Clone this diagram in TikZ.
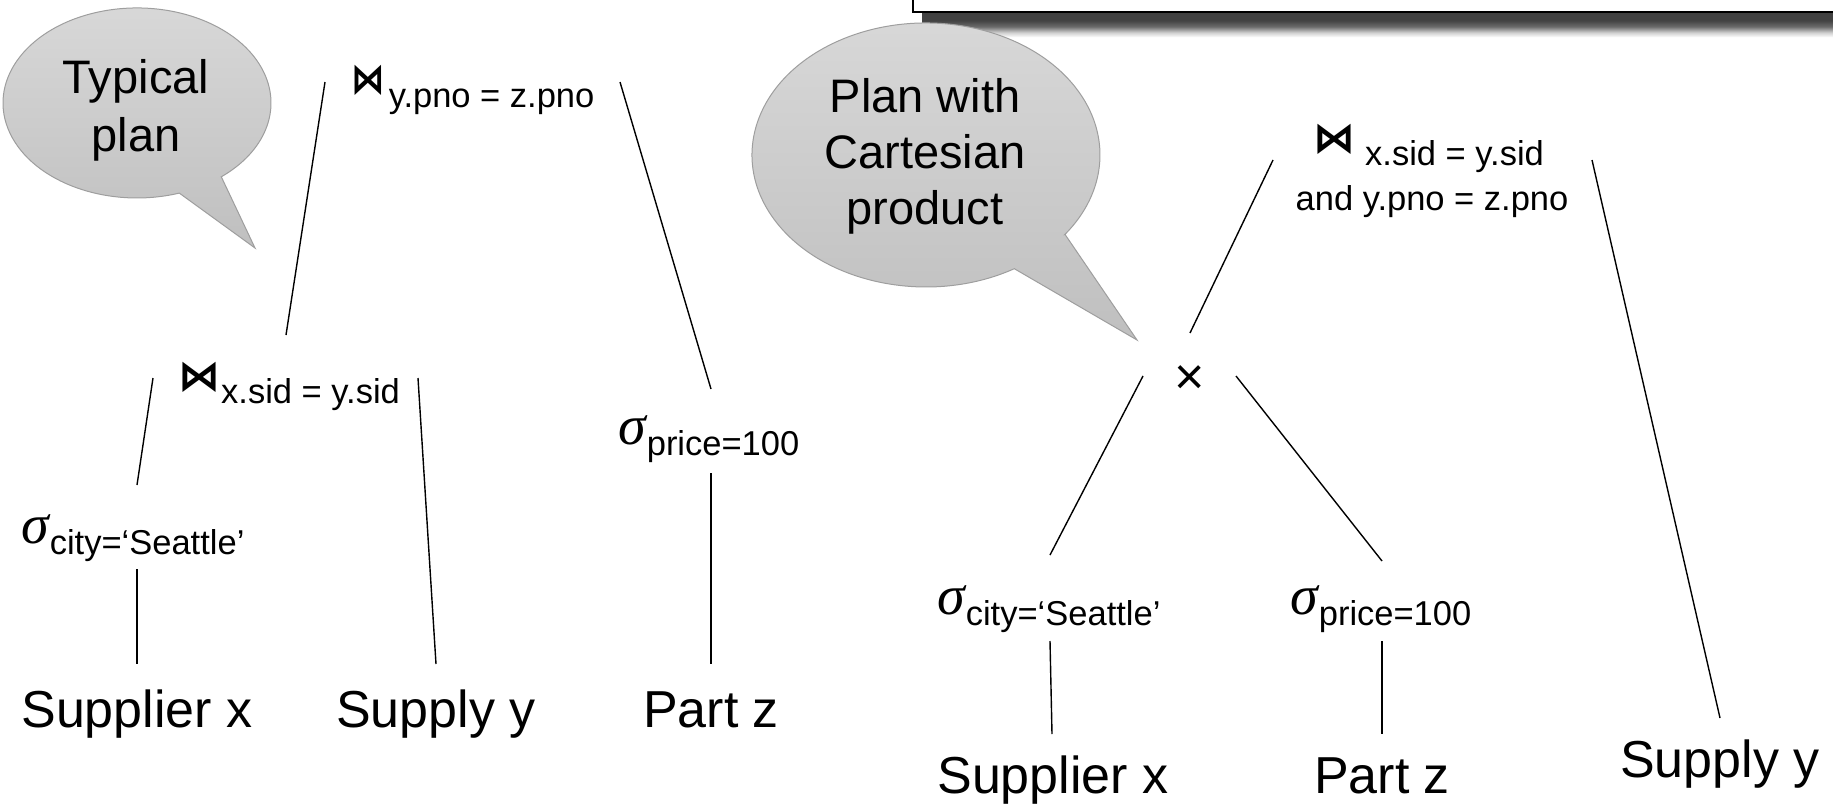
\documentclass[tikz,border=0pt]{standalone}
\usepackage{fontspec}
\usepackage{graphicx}
\setmainfont{Liberation Sans}
\newfontfamily\sigfont{Liberation Serif}
\newfontfamily\symfont{DejaVu Sans}
\newcommand\mysig{\raisebox{11pt}{\sigfont\itshape\fontsize{56}{60}\selectfont σ}}
\newcommand\mybowt{{\symfont\bfseries\fontsize{42}{42}\selectfont ⋈}}
\pgfdeclareverticalshading{shadowfade}{100bp}{color(0bp)=(white); color(26bp)=(white); color(32bp)=(black!18); color(40bp)=(black!58); color(48bp)=(black!74); color(100bp)=(black!76)}
\begin{document}
\begin{tikzpicture}[x=1pt,y=-1pt,
  lab/.style={inner sep=0pt, anchor=base, font=\fontsize{52}{62}\selectfont},
  cond/.style={inner sep=0pt, anchor=base west, font=\fontsize{34.5}{41}\selectfont},
  bubble/.style={draw=black!38, line width=1pt, top color=black!15, bottom color=black!25},
  bubtext/.style={inner sep=0pt, align=center, anchor=base},
  edge/.style={line width=1.4pt}]
\useasboundingbox (0,0) rectangle (1833,803);
% top box with shadow
\shade[shading=shadowfade] (922,0) rectangle (1845,38);
\draw[line width=2pt, fill=white] (913,-10) rectangle (1845,12);
% callouts
\draw[bubble] (221.3,176.8) -- (255,248) -- (179.3,193.1)
  arc[start angle=71.6, end angle=411, x radius=134, y radius=95] -- cycle;
\node[bubtext, font=\fontsize{47}{58}\selectfont] (c1) at (136,151) {Typical\\plan};
\draw[bubble] (1065,234.4) -- (1137,340) -- (1014.3,268.7)
  arc[start angle=59.5, end angle=397, x radius=174, y radius=132] -- cycle;
\node[bubtext, font=\fontsize{47}{56}\selectfont] (c2) at (925,224) {Plan with\\Cartesian\\product};
% left tree nodes
\node[cond] (j2) at (351,107) {\raisebox{14pt}{\scalebox{0.8}[1]{\mybowt}}\hspace{4pt}y.pno = z.pno};
\node[cond] (j1) at (178,403) {\raisebox{13pt}{\mybowt}\hspace{1pt}x.sid = y.sid};
\node[cond] (s1) at (21,554) {\mysig\hspace{1pt}city=‘Seattle’};
\node[cond] (s2) at (618,455) {\mysig\hspace{1pt}price=100};
\node[lab] (r1) at (137,727) {Supplier x};
\node[lab] (r2) at (436,727) {Supply y};
\node[lab] (r3) at (711,727) {Part z};
% right tree nodes
\node[cond] (k2) at (1313,165) {\raisebox{13pt}{\mybowt}\hspace{10pt}x.sid = y.sid};
\node[inner sep=0pt, anchor=base, font=\fontsize{34.5}{41}\selectfont] (k2b) at (1432,210) {and y.pno = z.pno};
\node[inner sep=0pt, anchor=base, font=\fontsize{52}{52}\selectfont] (cp) at (1190,394) {×};
\node[cond] (t1) at (937,625) {\mysig\hspace{1pt}city=‘Seattle’};
\node[cond] (t2) at (1290,625) {\mysig\hspace{1pt}price=100};
\node[lab] (q1) at (1053,793) {Supplier x};
\node[lab] (q3) at (1382,793) {Part z};
\node[lab] (q2) at (1720,777) {Supply y};
% connector end points
\coordinate (a1) at (325,82);   \coordinate (a2) at (286,335);
\coordinate (b1) at (620,82);   \coordinate (b2) at (711,389);
\coordinate (c1a) at (153,378); \coordinate (c1b) at (137,485);
\coordinate (d1) at (418,378);  \coordinate (d2) at (436,664);
\coordinate (e1) at (137,569);  \coordinate (e2) at (137,664);
\coordinate (f1) at (711,473);  \coordinate (f2) at (711,664);
\coordinate (g1) at (1273,160); \coordinate (g2) at (1190,333);
\coordinate (h1) at (1592,160); \coordinate (h2) at (1720,718);
\coordinate (i1) at (1143,376); \coordinate (i2) at (1050,555);
\coordinate (m1) at (1236,376); \coordinate (m2) at (1382,561);
\coordinate (n1) at (1050,641); \coordinate (n2) at (1052,734);
\coordinate (o1) at (1382,641); \coordinate (o2) at (1382,734);
\draw[edge] (a1) -- (a2);
\draw[edge] (b1) -- (b2);
\draw[edge] (c1a) -- (c1b);
\draw[edge] (d1) -- (d2);
\draw[edge] (e1) -- (e2);
\draw[edge] (f1) -- (f2);
\draw[edge] (g1) -- (g2);
\draw[edge] (h1) -- (h2);
\draw[edge] (i1) -- (i2);
\draw[edge] (m1) -- (m2);
\draw[edge] (n1) -- (n2);
\draw[edge] (o1) -- (o2);
\end{tikzpicture}
\end{document}
